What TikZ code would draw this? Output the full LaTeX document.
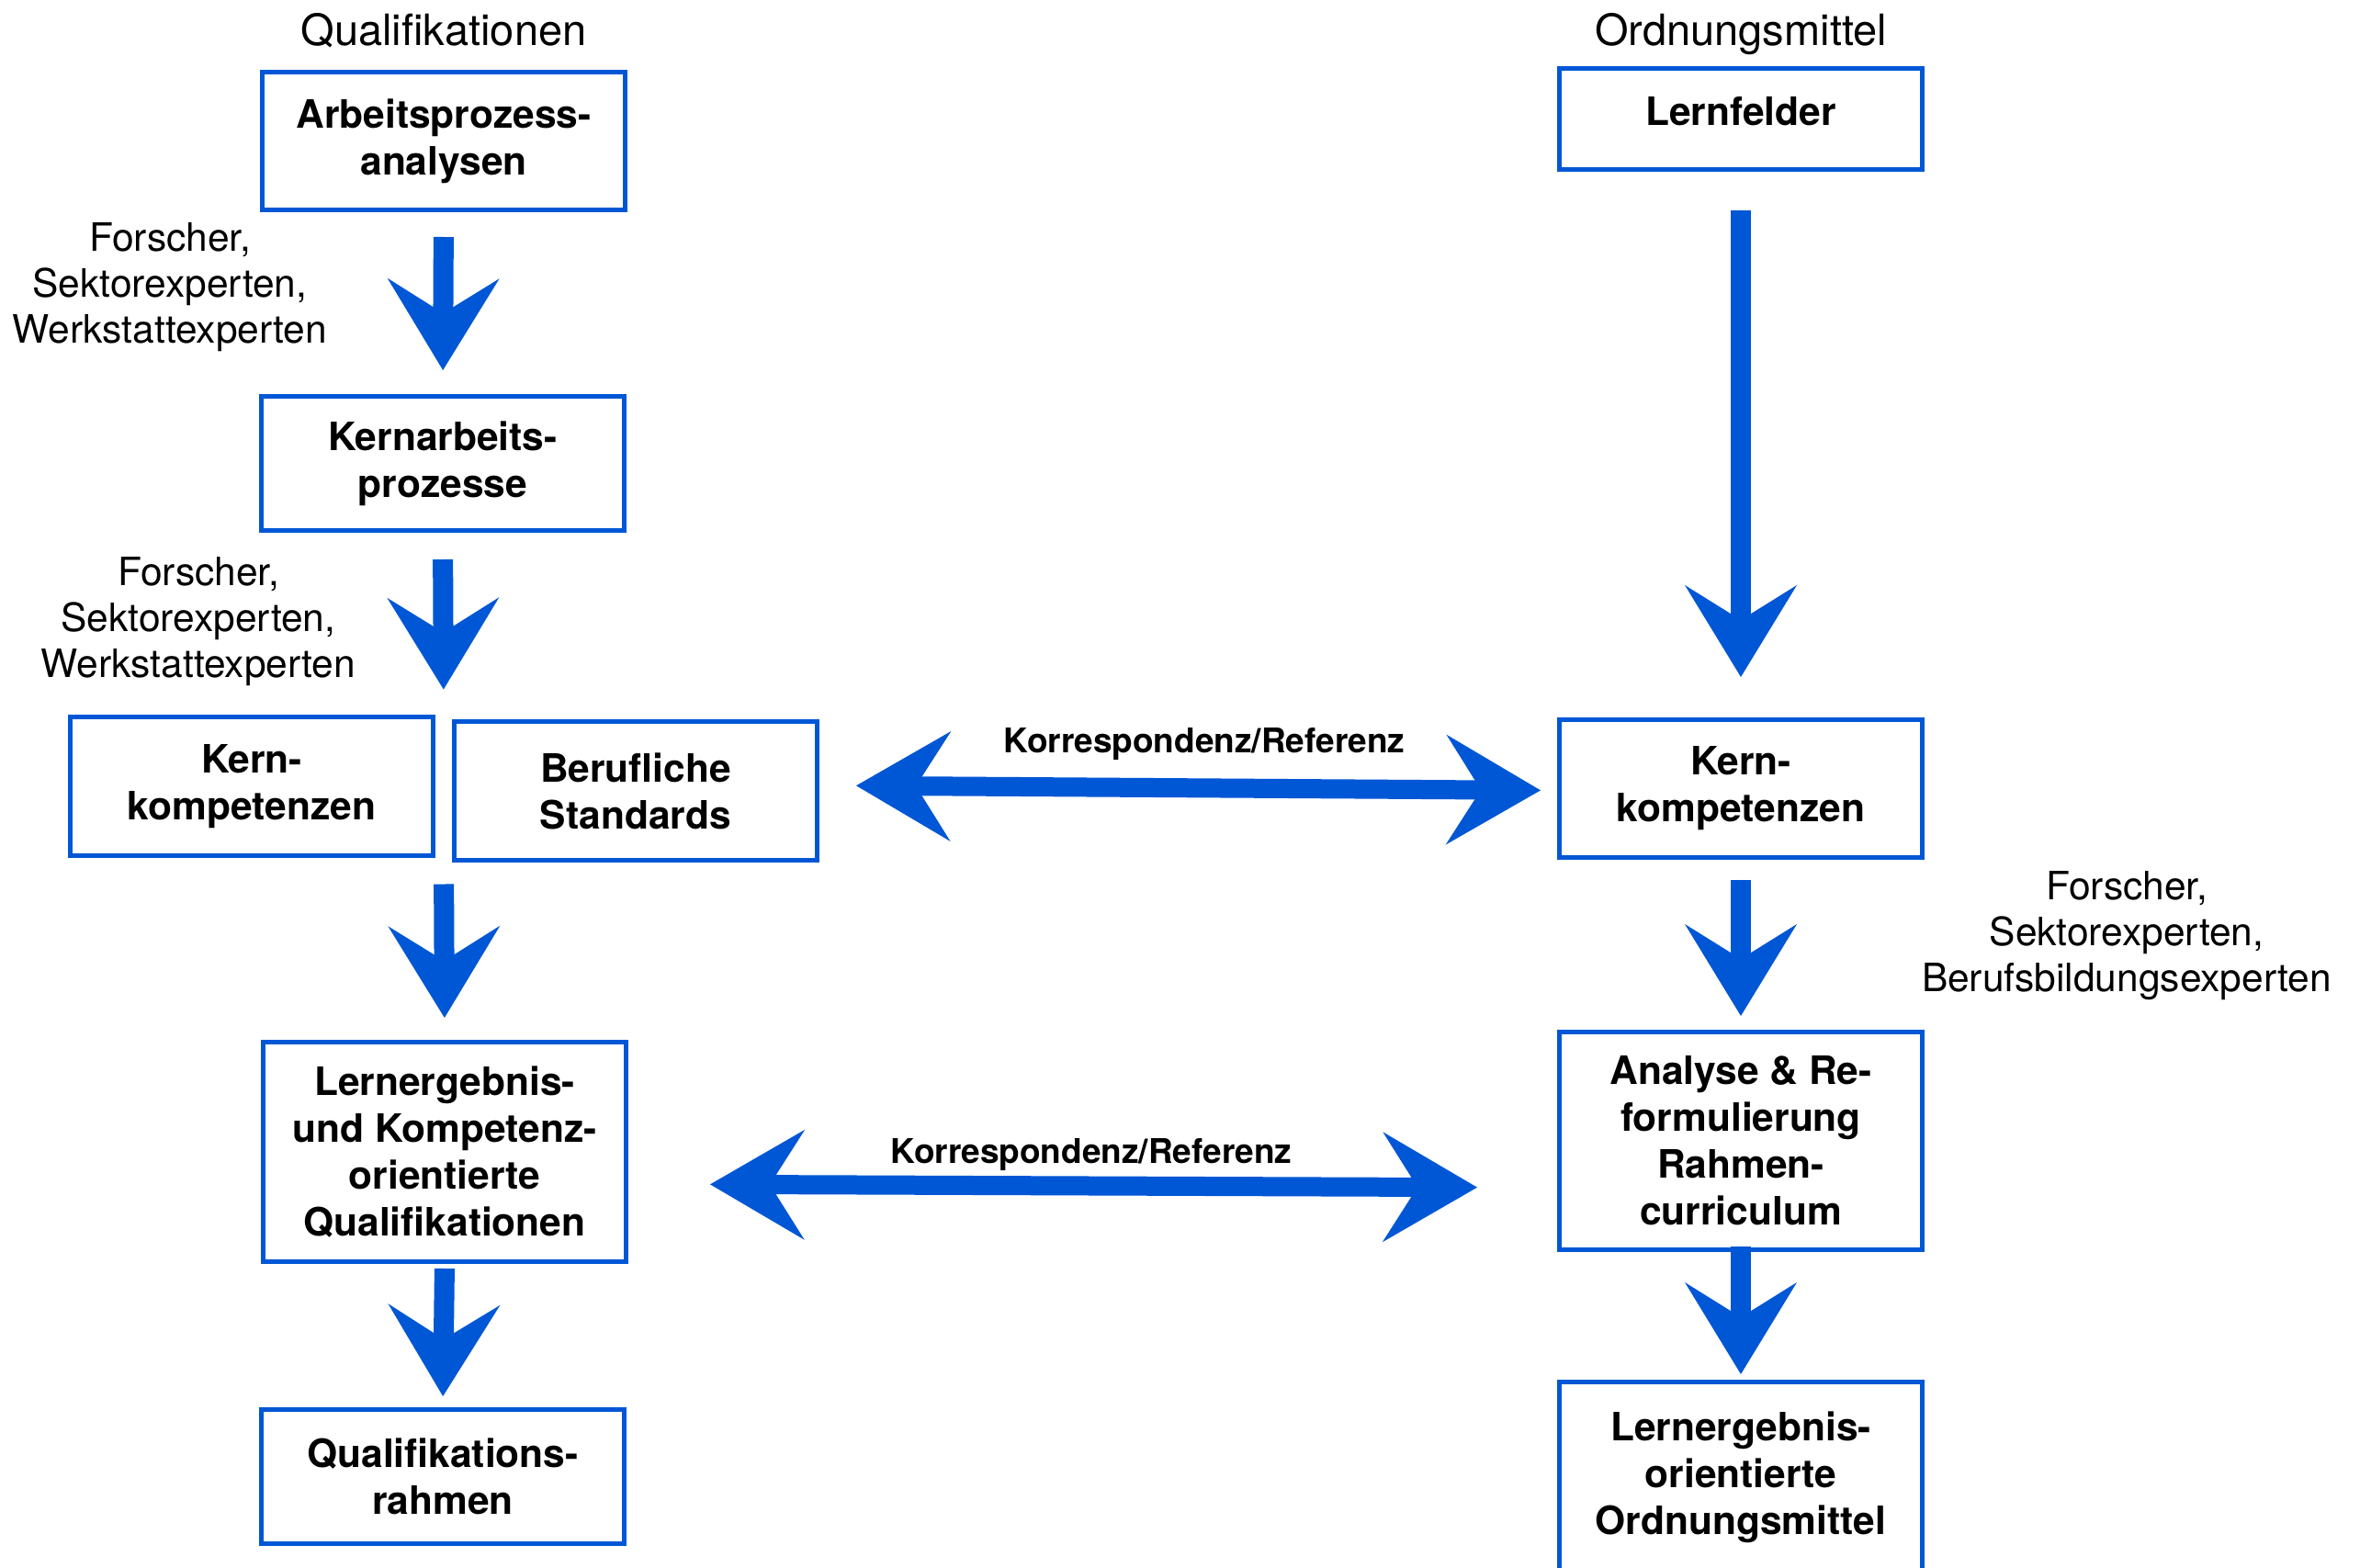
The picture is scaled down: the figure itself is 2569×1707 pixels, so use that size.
\documentclass[tikz,border=0pt]{standalone}
\usepackage{fontspec}
\setmainfont{TeX Gyre Heros}
\usetikzlibrary{arrows.meta,calc}
\definecolor{boxblue}{RGB}{0,87,214}
\begin{document}
\begin{tikzpicture}[x=1pt,y=1pt,
 box/.style={draw=boxblue, line width=5pt, minimum width=395pt, minimum height=150pt, align=center, font=\fontsize{42.5}{51}\selectfont\bfseries, inner sep=0pt},
 note/.style={align=center, font=\fontsize{42.5}{50}\selectfont},
 head/.style={font=\fontsize{47}{55}\selectfont, anchor=base},
 klabel/.style={font=\fontsize{37}{44}\selectfont\bfseries, anchor=base},
 chalk/.style={color=boxblue, line width=22pt, -{Stealth[length=100pt,width=122pt,inset=38pt,line width=0pt]}},
 chalkh/.style={color=boxblue, line width=21pt, {Stealth[length=103pt,width=120pt,inset=38pt,line width=0pt]}-{Stealth[length=103pt,width=120pt,inset=38pt,line width=0pt]}}
]
\clip (0,0) rectangle (2569,-1707);
\fill[white] (0,0) rectangle (2569,-1707);

% headers
\node[head] (H1) at (483,-50) {Qualifikationen};
\node[head] (H2) at (1895,-50) {Ordnungsmittel};

% left column
\node[box] (A1) at (483,-153.5) {Arbeitsprozess-\\analysen};
\node[box,minimum height=146pt] (A2) at (482,-504.5) {Kernarbeits-\\prozesse};
\node[box,minimum height=151pt] (A3) at (274,-856) {Kern-\\kompetenzen};
\node[box,minimum height=151pt] (A4) at (692,-861) {Berufliche\\Standards};
\node[box,minimum height=239pt] (A5) at (484,-1254) {Lernergebnis-\\und Kompetenz-\\orientierte\\Qualifikationen};
\node[box,minimum height=146pt] (A6) at (482,-1607.5) {Qualifikations-\\rahmen};

% right column
\node[box,minimum height=110pt,text depth=16pt] (B1) at (1895,-129.5) {Lernfelder};
\node[box] (B2) at (1895,-858.5) {Kern-\\kompetenzen};
\node[box,minimum height=237pt] (B3) at (1895,-1242) {Analyse \& Re-\\formulierung\\Rahmen-\\curriculum};
\node[box,minimum height=249pt,anchor=north] (B4) at (1895,-1502) {Lernergebnis-\\orientierte\\Ordnungsmittel\\\mbox{}};

% notes
\node[note] (N1) at (185,-313) {Forscher,\\Sektorexperten,\\Werkstattexperten};
\node[note] (N2) at (216,-677) {Forscher,\\Sektorexperten,\\Werkstattexperten};
\node[note] (N3) at (2315,-1019) {Forscher,\\Sektorexperten,\\Berufsbildungsexperten};

% helper coordinates between A3 and A4
\coordinate (AKtop) at ($(A3.north east)!0.5!(A4.north west)$);
\coordinate (AKbot) at ($(A3.south east)!0.5!(A4.south west)$);

% vertical arrows
\draw[chalk, shorten <=27pt, shorten >=26pt] (A1.south) -- (A2.north);
\draw[chalk, shorten <=29pt, shorten >=30pt] (A2.south) -- (AKtop);
\draw[chalk, shorten <=26pt, shorten >=24pt] (AKbot) -- (A5.north);
\draw[chalk, shorten <=5pt, shorten >=12pt] (A5.south) -- (A6.north);
\draw[chalk, shorten <=42pt, shorten >=44pt] (B1.south) -- (B2.north);
\draw[chalk, shorten <=22pt, shorten >=15pt] (B2.south) -- (B3.north);
\draw[chalk, shorten <=-6pt, shorten >=6pt] (B3.south) -- (B4.north);

% horizontal arrows
\draw[chalkh, shorten <=40pt, shorten >=18pt] ([yshift=6pt]A4.east) -- ([yshift=-2pt]B2.west);
\draw[chalkh, shorten <=89pt, shorten >=87pt] ([yshift=-35pt]A5.east) -- ([yshift=-51pt]B3.west);

\node[klabel] (K1) at (1311,-819) {Korrespondenz/Referenz};
\node[klabel] (K2) at (1188,-1266) {Korrespondenz/Referenz};
\end{tikzpicture}
\end{document}
